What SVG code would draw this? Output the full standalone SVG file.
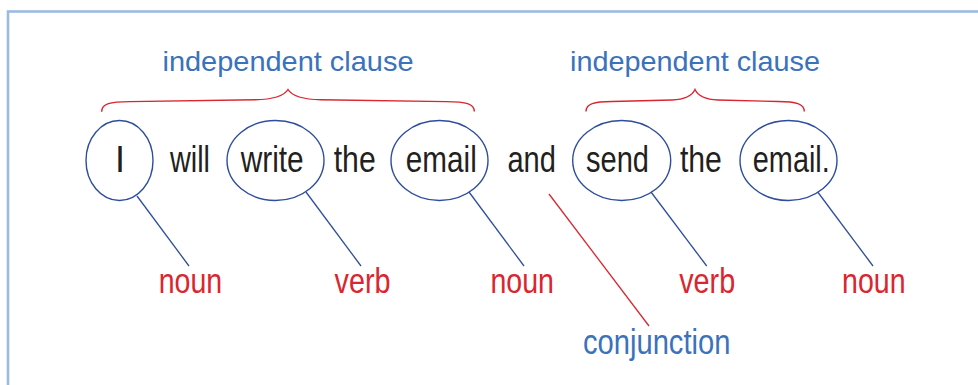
<svg xmlns="http://www.w3.org/2000/svg" width="978" height="385" viewBox="0 0 978 385">
<style>
.frame{fill:none;stroke:#9bbce2;stroke-width:2.6}
.oval{fill:none;stroke:#2d4d9d;stroke-width:1.4}
.lnk{fill:none;stroke:#2d4d9d;stroke-width:1.3}
.conj{fill:none;stroke:#d9262f;stroke-width:1.3}
.brace{fill:none;stroke:#d9262f;stroke-width:1.4}
.word{font-family:"Liberation Sans Narrow","Liberation Sans",Arial,sans-serif;font-size:36px;fill:#231f20;text-anchor:middle}
.lbl{font-family:"Liberation Sans Narrow","Liberation Sans",Arial,sans-serif;font-size:35px;fill:#d9262f;text-anchor:middle}
.hdr{font-family:"Liberation Sans",Arial,sans-serif;font-size:28.5px;fill:#3a72bb;text-anchor:middle}
.cj{font-family:"Liberation Sans Narrow","Liberation Sans",Arial,sans-serif;font-size:35px;fill:#3a72bb;text-anchor:middle}
</style>
<rect class="frame" x="8" y="11.5" width="1000" height="400"/>
<g id="clause1">
<path class="brace" d="M101.7,111.7 C101.7,103.5 110,101.8 130,101.6 L255,99.8 C274,99.4 284,96 288,89.5 C292,96 302,99.4 321,99.8 L446,101.6 C466,101.8 474.3,103.5 474.3,111.5"/>
<text class="hdr" x="288" y="70.7" textLength="251" lengthAdjust="spacingAndGlyphs">independent clause</text>
</g>
<g id="clause2">
<path class="brace" d="M586,111.5 C586,103.5 594,101.6 612,101.5 L672,100 C686,99.5 692,96 695,89.5 C698,96 704,99.5 718,100 L778,101.5 C796,101.6 804.3,103.5 804.3,111.5"/>
<text class="hdr" x="695" y="70.7" textLength="250" lengthAdjust="spacingAndGlyphs">independent clause</text>
</g>
<g id="connectors">
<line class="lnk" x1="137" y1="196" x2="189" y2="266"/>
<line class="lnk" x1="306" y1="192" x2="361" y2="266"/>
<line class="lnk" x1="469" y1="192" x2="524" y2="266"/>
<line class="conj" x1="549" y1="194" x2="649" y2="326"/>
<line class="lnk" x1="651" y1="192" x2="706.7" y2="266"/>
<line class="lnk" x1="817.7" y1="192" x2="873" y2="266"/>
</g>
<g id="w-I">
<ellipse class="oval" cx="119.5" cy="160.5" rx="33.5" ry="40"/>
<text class="word" x="120" y="172">I</text>
</g>
<g id="w-will">
<text class="word" x="190" y="172" textLength="40" lengthAdjust="spacingAndGlyphs">will</text>
</g>
<g id="w-write">
<ellipse class="oval" cx="275.5" cy="160.5" rx="48.5" ry="40"/>
<text class="word" x="272.2" y="172" textLength="63" lengthAdjust="spacingAndGlyphs">write</text>
</g>
<g id="w-the1">
<text class="word" x="354.7" y="172" textLength="42" lengthAdjust="spacingAndGlyphs">the</text>
</g>
<g id="w-email1">
<ellipse class="oval" cx="439.5" cy="160.5" rx="48.5" ry="40"/>
<text class="word" x="441.3" y="172" textLength="71" lengthAdjust="spacingAndGlyphs">email</text>
</g>
<g id="w-and">
<text class="word" x="531.7" y="172" textLength="48.5" lengthAdjust="spacingAndGlyphs">and</text>
</g>
<g id="w-send">
<ellipse class="oval" cx="621.7" cy="160.5" rx="49" ry="40"/>
<text class="word" x="617.5" y="172" textLength="63" lengthAdjust="spacingAndGlyphs">send</text>
</g>
<g id="w-the2">
<text class="word" x="700.9" y="172" textLength="42" lengthAdjust="spacingAndGlyphs">the</text>
</g>
<g id="w-email2">
<ellipse class="oval" cx="788.5" cy="160.5" rx="48.5" ry="40"/>
<text class="word" x="791.3" y="172" textLength="77" lengthAdjust="spacingAndGlyphs">email.</text>
</g>
<g id="l-noun1"><text class="lbl" x="190.5" y="293" textLength="63.5" lengthAdjust="spacingAndGlyphs">noun</text></g>
<g id="l-verb1"><text class="lbl" x="362.5" y="293" textLength="56" lengthAdjust="spacingAndGlyphs">verb</text></g>
<g id="l-noun2"><text class="lbl" x="522.2" y="293" textLength="63.5" lengthAdjust="spacingAndGlyphs">noun</text></g>
<g id="l-verb2"><text class="lbl" x="707.2" y="293" textLength="56" lengthAdjust="spacingAndGlyphs">verb</text></g>
<g id="l-noun3"><text class="lbl" x="873.8" y="293" textLength="63.5" lengthAdjust="spacingAndGlyphs">noun</text></g>
<g id="l-conj"><text class="cj" x="656.7" y="354" textLength="147.5" lengthAdjust="spacingAndGlyphs">conjunction</text></g>
</svg>
